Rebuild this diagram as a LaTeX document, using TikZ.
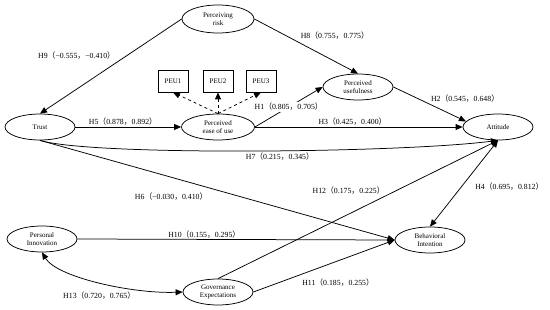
\documentclass[tikz,border=0pt]{standalone}
\usepackage{fontspec}
\setmainfont{Liberation Serif}
\newfontfamily\cjk{Noto Sans CJK SC}
\usetikzlibrary{arrows.meta, shapes.geometric}
\newcommand{\hlab}[3]{#1{\cjk（}#2{\cjk，}#3{\cjk）}}

\begin{document}
\begin{tikzpicture}[
    x=1pt, y=-1pt,
    latent/.style={ellipse, draw, line width=0.75pt, minimum width=70pt, minimum height=26pt, inner sep=0pt, align=center, font=\fontsize{7}{8.5}\selectfont},
    item/.style={rectangle, draw, line width=0.75pt, minimum width=30pt, minimum height=22pt, inner sep=0pt, font=\fontsize{7}{8.5}\selectfont},
    arrow/.style={-{Triangle[length=7pt, width=6pt]}, line width=0.75pt},
    both/.style={{Triangle[length=7pt, width=6pt]}-{Triangle[length=7pt, width=6pt]}, line width=0.75pt},
    dasharrow/.style={arrow, dashed},
    lab/.style={font=\fontsize{7.8}{9}\selectfont, inner sep=1pt}
]
    \useasboundingbox (0,0) rectangle (550,310);

    % Constructs
    \node[latent, minimum width=72pt, minimum height=28pt] (risk) at (218,19) {Perceiving\\risk};
    \node[latent] (trust) at (40,127) {Trust};
    \node[latent, minimum width=73pt] (peou) at (218,127) {Perceived\\ease of use};
    \node[latent] (pu) at (358,87) {Perceived\\usefulness};
    \node[latent] (att) at (498,127) {Attitude};
    \node[latent] (pinno) at (42,239) {Personal\\Innovation};
    \node[latent] (gov) at (218,292) {Governance\\Expectations};
    \node[latent] (bi) at (430,240) {Behavioral\\Intention};

    % Items
    \node[item] (peu1) at (173,81) {PEU1};
    \node[item] (peu2) at (218,81) {PEU2};
    \node[item] (peu3) at (261,81) {PEU3};

    \draw[dasharrow] (peou.north) -- (peu1.south);
    \draw[dasharrow] (peou.north) -- (peu2.south);
    \draw[dasharrow] (peou.north) -- (peu3.south);

    % Paths
    \draw[arrow] (risk.west) -- node[lab, pos=0.39, anchor=east, xshift=-10pt] {\hlab{H9}{−0.555}{−0.410}} (trust.north);
    \draw[arrow] (risk.east) -- node[lab, pos=0.3, anchor=west, xshift=14pt] {\hlab{H8}{0.755}{0.775}} (pu.north);
    \draw[arrow] (trust.east) -- node[lab, pos=0.45, above] {\hlab{H5}{0.878}{0.892}} (peou.west);
    \draw[arrow] (peou.east) -- node[lab, midway, fill=white] {\hlab{H1}{0.805}{0.705}} (pu.west);
    \draw[arrow] (peou.east) -- node[lab, pos=0.47, above] {\hlab{H3}{0.425}{0.400}} (att.west);
    \draw[arrow] (pu.east) -- node[lab, midway, anchor=south west] {\hlab{H2}{0.545}{0.648}} (att.170);
    \draw[arrow] (trust.south) .. controls (90,156) and (400,153) .. node[lab, pos=0.55, below=1pt] {\hlab{H7}{0.215}{0.345}} (att.south);
    \draw[arrow] (trust.south) -- node[lab, pos=0.37, below=14pt] {\hlab{H6}{−0.030}{0.410}} (bi.west);
    \draw[arrow] (pinno.east) -- node[lab, pos=0.4, above] {\hlab{H10}{0.155}{0.295}} (bi.west);
    \draw[arrow] (gov.north) -- node[lab, pos=0.6, anchor=south east] {\hlab{H12}{0.175}{0.225}} (att.south);
    \draw[arrow] (gov.east) -- node[lab, pos=0.6, below=17pt] {\hlab{H11}{0.185}{0.255}} (bi.west);
    \draw[both] (att.south) -- node[lab, pos=0.53, right=12pt] {\hlab{H4}{0.695}{0.812}} (bi.north);
    \draw[both] (pinno.south) .. controls +(15,25) and +(-50,2) .. node[lab, pos=0.5, below=8pt] {\hlab{H13}{0.720}{0.765}} (gov.west);
\end{tikzpicture}
\end{document}
